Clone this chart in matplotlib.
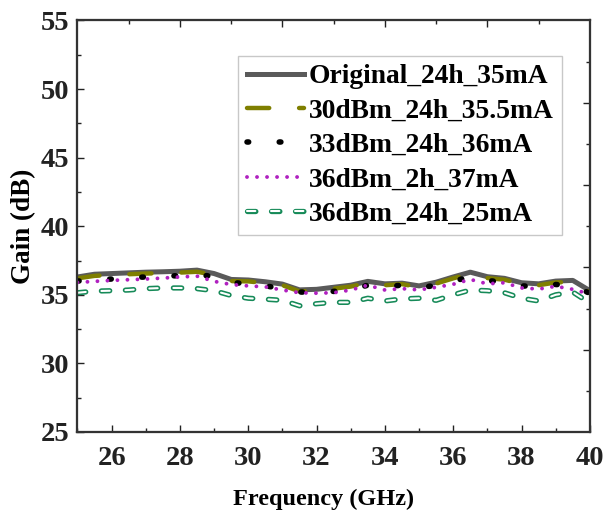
import numpy as np
import matplotlib
matplotlib.use("Agg")
import matplotlib.pyplot as plt
import matplotlib.patheffects as pe
from matplotlib.ticker import MultipleLocator, FixedLocator, NullFormatter

plt.rcParams["font.family"] = ["Liberation Serif", "DejaVu Serif"]
plt.rcParams["font.weight"] = "bold"
plt.rcParams["lines.scale_dashes"] = False

# frequency grid (GHz) and gain curves (dB)
freq = [25.0, 25.5, 26.0, 26.5, 27.0, 27.5, 28.0, 28.5, 29.0, 29.5,
        30.0, 30.5, 31.0, 31.5, 32.0, 32.5, 33.0, 33.5, 34.0, 34.5,
        35.0, 35.5, 36.0, 36.5, 37.0, 37.5, 38.0, 38.5, 39.0, 39.5, 40.0]

orig = [36.3, 36.5, 36.55, 36.6, 36.65, 36.68, 36.72, 36.8, 36.55, 36.12,
        36.08, 35.95, 35.78, 35.36, 35.4, 35.55, 35.7, 35.98, 35.8, 35.85,
        35.65, 35.92, 36.3, 36.65, 36.32, 36.2, 35.88, 35.8, 36.0, 36.05, 35.3]
d30 = [36.2, 36.38, 36.45, 36.5, 36.55, 36.58, 36.62, 36.68, 36.45, 36.0,
       35.98, 35.85, 35.7, 35.25, 35.3, 35.45, 35.6, 35.88, 35.7, 35.78,
       35.55, 35.82, 36.2, 36.55, 36.22, 36.1, 35.8, 35.7, 35.9, 35.95, 35.2]
d33 = [36.0, 36.1, 36.15, 36.25, 36.3, 36.35, 36.4, 36.45, 36.35, 35.9,
       35.8, 35.65, 35.45, 35.2, 35.2, 35.25, 35.36, 35.7, 35.6, 35.7,
       35.5, 35.7, 36.0, 36.3, 36.05, 35.9, 35.65, 35.6, 35.75, 35.7, 35.1]
d36_2h = [35.9, 35.98, 36.05, 36.1, 36.15, 36.22, 36.3, 36.36, 35.98, 35.75,
          35.65, 35.58, 35.35, 35.15, 35.12, 35.15, 35.35, 35.7, 35.35, 35.45,
          35.36, 35.55, 35.77, 36.12, 35.8, 35.88, 35.5, 35.42, 35.62, 35.4, 35.05]
d36_24h = [35.15, 35.27, 35.3, 35.35, 35.45, 35.5, 35.5, 35.45, 35.3, 34.95,
           34.75, 34.68, 34.6, 34.2, 34.35, 34.45, 34.45, 34.75, 34.55, 34.7,
           34.75, 34.6, 35.0, 35.35, 35.3, 35.15, 34.75, 34.55, 35.0, 35.2, 34.4]

labels = ["Original_24h_35mA", "30dBm_24h_35.5mA", "33dBm_24h_36mA",
          "36dBm_2h_37mA", "36dBm_24h_25mA"]

fig = plt.figure(figsize=(6.05, 5.11), dpi=100)
ax = fig.add_axes([0.128, 0.1546, 0.847, 0.8054])

green = "#168a58"
ax.plot(freq, orig, color="#5a5a5a", lw=3.6, label=labels[0])
ax.plot(freq, d30, color="#7f7f00", lw=3.2, dashes=(16.0, 21.5),
        dash_capstyle="round", label=labels[1])
ax.plot(freq, d33, color="black", lw=4.0, dashes=(1.2, 22),
        dash_capstyle="round", label=labels[2])
ax.plot(freq, d36_2h, color="#b020c0", lw=2.8, dashes=(0.01, 7.2),
        dash_capstyle="round", label=labels[3])
ax.plot(freq, d36_24h, color="white", lw=1.5, dashes=(6.0, 11.3),
        dash_capstyle="round", label=labels[4],
        path_effects=[pe.Stroke(linewidth=3.8, foreground=green), pe.Normal()])

ax.set_xlim(25, 40)
ax.set_ylim(25, 55)
ax.xaxis.set_major_locator(FixedLocator([26, 28, 30, 32, 34, 36, 38, 40]))
ax.xaxis.set_minor_locator(MultipleLocator(1))
ax.yaxis.set_major_locator(MultipleLocator(5))
ax.yaxis.set_minor_locator(MultipleLocator(2.5))
ax.tick_params(which="both", direction="in", width=1.0, colors="#222222",
               labelsize=20.5)
ax.tick_params(which="major", length=5)
ax.tick_params(which="minor", length=3)
ax.tick_params(axis="x", pad=10)
ax.tick_params(axis="y", pad=6)
for s in ax.spines.values():
    s.set_linewidth(1.5)
    s.set_color("#333333")

ax.set_xlabel("Frequency (GHz)", fontsize=17.5, fontweight="bold")
ax.xaxis.set_label_coords(0.481, -0.137)
ax.set_ylabel("Gain (dB)", fontsize=19.5, fontweight="bold", labelpad=3)

# unlabeled opposite axes with their own 10 divisions
axr = ax.twinx()
axr.set_ylim(0, 10)
axt = ax.twiny()
axt.set_xlim(0, 10)
for a in (axr.yaxis, axt.xaxis):
    a.set_major_locator(FixedLocator([2, 4, 6, 8]))
    a.set_minor_locator(FixedLocator([1, 3, 5, 7, 9]))
    a.set_major_formatter(NullFormatter())
for a in (axr, axt):
    a.tick_params(which="both", direction="in", width=1.0, colors="#222222")
    a.tick_params(which="major", length=5)
    a.tick_params(which="minor", length=3)
    for s in a.spines.values():
        s.set_linewidth(1.5)
        s.set_color("#333333")

leg = ax.legend(loc="upper right", bbox_to_anchor=(0.945, 0.914),
                borderaxespad=0, fontsize=19.8, handlelength=2.1,
                handletextpad=0.15, labelspacing=0.33, borderpad=0.3,
                fancybox=False, framealpha=1, edgecolor="#c8c8c8")
leg.get_frame().set_linewidth(1.0)
leg.set_zorder(5)

fig.savefig("out.png", dpi=100)
